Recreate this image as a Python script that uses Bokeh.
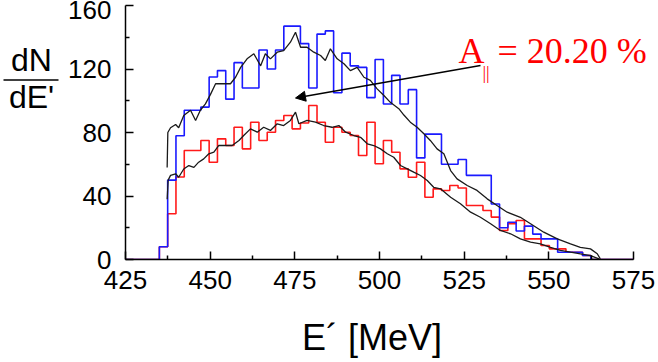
from bokeh.plotting import figure
from bokeh.layouts import row, column
from bokeh.models import Label, Arrow, NormalHead, Range1d, FixedTicker
from bokeh.core.properties import value
from bokeh.embed import file_html
from bokeh.resources import INLINE

# ---------------- data ----------------
bin_start = 435.0
bin_width = 2.45

blue_counts = [8, 50, 78, 94, 94, 96, 115, 119, 101, 124, 108, 108, 132, 120, 132,
               147, 147, 136, 108, 142, 144, 105, 130, 122, 121, 102, 126, 98, 116,
               98, 107, 64, 79, 79, 60, 60, 63, 53, 53, 53, 35, 20, 23.5, 18, 21, 16,
               13, 13, 4.6, 4.6, 4.6, 2.5]

red_counts = [8, 28.8, 52, 68.7, 68.7, 75, 61.3, 76, 71.8, 83.3, 69.7, 86.5, 75, 80.2,
              87.6, 90.7, 82.3, 86, 97, 86.5, 73.9, 83.3, 80.2, 78.1, 65.5, 86.5, 60.3,
              75, 67.6, 57.1, 51.8, 61.3, 39.2, 44.5, 43.5, 46.6, 45, 34, 34, 30.9, 26.7,
              18.3, 22.5, 24.6, 13, 13, 8.8, 6.7, 6.7, 4.6, 4.6, 2.5]

fit_upper_x = [437.3, 437.5, 438.3, 439.8, 440.7, 442.2, 444.2, 445.7, 447.1, 448.6, 450.1,
               451.6, 453.5, 456.0, 457.5, 459.0, 460.9, 462.9, 464.9, 466.3, 467.8, 469.8,
               471.7, 473.7, 475.2, 476.7, 478.6, 480.6, 482.6, 484.0, 485.5, 487.5, 489.5,
               491.4, 493.4, 495.4, 497.3, 499.3, 501.3, 503.2, 505.7, 507.2, 509.1, 511.1,
               513.1, 515.0, 517.0, 519.0, 521.0, 522.9, 525.9, 528.8, 531.8, 534.7, 537.7,
               541.6, 544.6, 548.5, 552.5, 556.4, 559.3, 562.3, 564.3, 565.2]
fit_upper_y = [58, 80, 83, 85, 83, 90.7, 94, 87.6, 94, 98, 104,
               110.7, 110.7, 110.7, 114.8, 121, 126.4, 129.6, 122, 129.6, 126.4, 130.6,
               131.6, 136.9, 143.2, 133.7, 133.7, 130.6, 128.5, 125.4, 132.7, 126.4, 123.3,
               119, 121, 114.8, 112.8, 107.5, 103.3, 99, 95, 91, 86.5, 83.3,
               79.2, 75, 69.7, 66.6, 56, 50.8, 46.6, 43.5, 38.2, 34, 29.8,
               26.6, 22.5, 17.2, 13, 9.9, 7.7, 6.7, 3.6, 0.4]

fit_lower_x = [437.3, 437.6, 438.3, 439.8, 440.7, 442.2, 443.7, 445.2, 446.6, 448.1, 449.6,
               451.1, 452.5, 454.5, 456.5, 458.5, 459.9, 461.9, 463.9, 465.8, 467.8, 469.8,
               471.7, 473.7, 475.2, 476.2, 478.6, 481.1, 483.5, 486.0, 488.0, 490.0, 492.4,
               494.4, 496.4, 498.3, 500.3, 502.3, 504.2, 506.2, 508.2, 510.1, 512.1, 514.1,
               516.0, 518.0, 521.0, 523.9, 526.9, 529.8, 532.8, 535.7, 538.7, 541.6, 544.6,
               547.5, 550.5, 553.4, 556.4, 559.3, 562.3, 564.8]
fit_lower_y = [38, 50, 53, 54, 51.8, 57, 59.2, 58, 61.3, 63.4, 66.6,
               67.6, 71.8, 71.8, 71.8, 75, 78.1, 82.3, 80.2, 83.3, 81.3, 85.5,
               84.4, 87.6, 92.8, 85.5, 87.6, 86.5, 84.4, 83.3, 84.4, 80.2, 78.1,
               77, 72.9, 71.8, 69.7, 66.6, 64.4, 59.2, 57.1, 55, 52.9, 49.8,
               45.5, 44.5, 39.2, 35.1, 29.8, 26.6, 22.5, 18.3, 16.2, 13, 10.9,
               9.9, 7.7, 5.7, 4.6, 3.6, 2.5, 0.4]

x_ticks = [425, 450, 475, 500, 525, 550, 575]
y_ticks = [0, 40, 80, 120, 160]
x_title = "E\u00b4 [MeV]"
y_title_num = "dN"
y_title_den = "dE'"
annotation_text = "= 20.20 %"

# ---------------- layout (page pixels) ----------------
X0, X1, Y0, Y1 = 425, 575, 0, 160
W, H = 658, 362
LEFT_W = 62              # strip holding the dN/dE' fraction
TOP_H = 305              # height of the plotting row
FL, FR_AXIS, FT, FB = 125, 633, 5, 259   # frame left, axis end, frame top, frame bottom
PX_PER_UNIT = (FR_AXIS - FL) / (X1 - X0)
X_END = X0 + (W - FL) / PX_PER_UNIT      # range extended so text at right is not clipped


def dx(px):
    return X0 + (px - FL) / PX_PER_UNIT


def dy(py):
    return Y0 + (FB - py) * (Y1 - Y0) / (FB - FT)


def mid(baseline_px, size_px):
    # vertical centre of a text whose alphabetic baseline sits at baseline_px
    return baseline_px - 0.36 * size_px


def step_xy(counts):
    edges = [bin_start + bin_width * k for k in range(len(counts) + 1)]
    xs = [X0] + edges + [X1]
    ys = [0] + list(counts) + [0, 0]
    return xs, ys


def blank(width, height, xr, yr):
    f = figure(width=width, height=height, x_range=xr, y_range=yr,
               output_backend="svg", toolbar_location=None,
               x_axis_type=None, y_axis_type=None,
               min_border_left=0, min_border_right=0, min_border_top=0, min_border_bottom=0)
    f.outline_line_color = None
    f.xgrid.visible = False
    f.ygrid.visible = False
    f.background_fill_color = "white"
    f.border_fill_color = "white"
    return f


# ---------------- main plot ----------------
p = figure(width=W - LEFT_W, height=TOP_H, x_range=Range1d(X0, X_END), y_range=Range1d(Y0, Y1),
           output_backend="svg", toolbar_location=None,
           min_border_left=FL - LEFT_W, min_border_right=0,
           min_border_top=FT, min_border_bottom=TOP_H - FB)
p.outline_line_color = None
p.xgrid.visible = False
p.ygrid.visible = False
p.background_fill_color = "white"
p.border_fill_color = "white"

x_minor = [t + 12.5 for t in x_ticks[:-1]]
y_minor = [t + 20 for t in y_ticks[:-1]]
p.xaxis.ticker = FixedTicker(ticks=x_ticks, minor_ticks=x_minor)
p.yaxis.ticker = FixedTicker(ticks=y_ticks, minor_ticks=y_minor)
p.xaxis.bounds = (X0, X1)

for ax in (p.xaxis[0], p.yaxis[0]):
    ax.major_tick_in = 8
    ax.major_tick_out = 0
    ax.minor_tick_in = 4
    ax.minor_tick_out = 0
    ax.axis_line_width = 1.5
    ax.major_tick_line_width = 1.5
    ax.minor_tick_line_width = 1.5
    ax.axis_line_color = "black"
    ax.major_tick_line_color = "black"
    ax.minor_tick_line_color = "black"
    ax.major_label_text_font = "Liberation Sans"
    ax.major_label_text_font_size = "26px"
    ax.major_label_text_color = "black"

p.yaxis.major_label_standoff = 14
p.xaxis.major_label_standoff = 11

rx, ry = step_xy(red_counts)
bx, by = step_xy(blue_counts)
p.step(rx, ry, mode="after", line_color="#ff1a1a", line_width=1.6)
p.step(bx, by, mode="after", line_color="#1a1aff", line_width=1.6)
p.line(fit_upper_x, fit_upper_y, line_color="#1a1a1a", line_width=1.3)
p.line(fit_lower_x, fit_lower_y, line_color="#1a1a1a", line_width=1.3)

# annotation
p.add_layout(Label(x=dx(458), y=dy(mid(63, 36)), text="A", text_align="left",
                   text_baseline="middle", text_font="Liberation Serif",
                   text_font_size="36px", text_color="#ff0000"))
p.add_layout(Label(x=dx(482), y=dy(mid(79, 18)), text="||", text_align="left",
                   text_baseline="middle", text_font="Liberation Serif",
                   text_font_size="18px", text_color="#ff0000"))
p.add_layout(Label(x=dx(497), y=dy(mid(63, 36)), text=annotation_text, text_align="left",
                   text_baseline="middle", text_font="Liberation Serif",
                   text_font_size="36px", text_color="#ff0000"))
p.add_layout(Arrow(end=NormalHead(size=10, fill_color="black", line_color="black"),
                   x_start=dx(480), y_start=dy(65), x_end=dx(295), y_end=dy(97.5),
                   line_color="black", line_width=1.3))

# ---------------- y quantity: dN / dE' ----------------
left = blank(LEFT_W, TOP_H, Range1d(0, LEFT_W), Range1d(TOP_H, 0))
left.text(x=[31, 31], y=[mid(77, 32), mid(121, 32)], text=[y_title_num, y_title_den],
          text_align="center", text_baseline="middle", text_font=value("Liberation Sans"),
          text_font_size="32px", text_color="black")
left.line(x=[3, 58], y=[89.5, 89.5], line_color="black", line_width=1.5)

# ---------------- x title ----------------
bottom = blank(W, H - TOP_H, Range1d(0, W), Range1d(H, TOP_H))
bottom.text(x=[371.5], y=[mid(350, 36)], text=[x_title], text_align="center",
            text_baseline="middle", text_font=value("Liberation Sans"),
            text_font_size="36px", text_color="black")

layout = column(row(left, p, spacing=0), bottom, spacing=0)
open("out.html", "w").write(file_html(layout, INLINE))
